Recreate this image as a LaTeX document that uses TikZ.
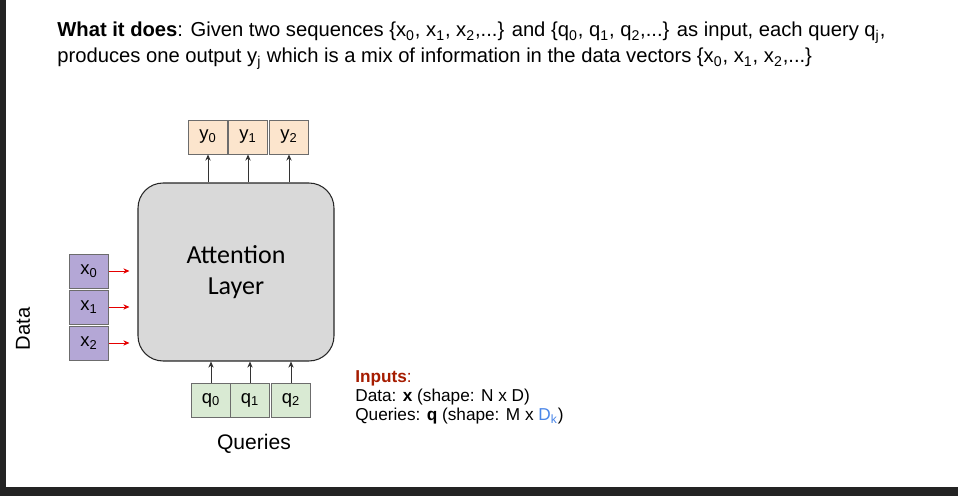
\documentclass[tikz,border=0pt]{standalone}
\usepackage{fontspec}
\setmainfont{Liberation Sans}
\newfontfamily\calfont{Carlito}
\usetikzlibrary{arrows.meta}

\definecolor{ycol}{HTML}{FCE5CD}
\definecolor{xcol}{HTML}{B4A7D6}
\definecolor{qcol}{HTML}{D9EAD3}
\definecolor{layercol}{HTML}{D9D9D9}
\definecolor{inred}{HTML}{A61C00}
\definecolor{dkblue}{HTML}{4A86E8}
\definecolor{framecol}{HTML}{232323}

\begin{document}
\begin{tikzpicture}[x=0.02cm, y=-0.02cm, >={Stealth[length=3.5pt,width=3pt]}]
    \tikzset{
        vec/.style={draw=gray!85!black, line width=0.5pt, minimum width=0.78cm, minimum height=0.68cm, inner sep=0pt, font=\fontsize{10.5}{12}\selectfont},
        flow/.style={->, line width=0.5pt, draw=black!80},
        redflow/.style={->, line width=0.5pt, draw=red!90!black, shorten >=0.16cm}
    }
    % frame
    \useasboundingbox (0,0) rectangle (958,496);
    \fill[framecol] (0,0) rectangle (958,496);
    \fill[white] (6,0) rectangle (958,487);
    % heading
    \node[anchor=base west, inner sep=0pt, font=\fontsize{11.5}{13}\selectfont] (head1) at (57,37)
        {\textbf{What it does}: Given two sequences \{x\textsubscript{0}, x\textsubscript{1}, x\textsubscript{2},...\} and \{q\textsubscript{0}, q\textsubscript{1}, q\textsubscript{2},...\} as input, each query q\textsubscript{j},};
    \node[anchor=base west, inner sep=0pt, font=\fontsize{11.5}{13}\selectfont] (head2) at (57,63)
        {produces one output y\textsubscript{j} which is a mix of information in the data vectors \{x\textsubscript{0}, x\textsubscript{1}, x\textsubscript{2},...\}};
    % attention layer
    \node[draw=black!85, line width=0.6pt, fill=layercol, rounded corners=0.5cm, minimum width=3.92cm, minimum height=3.56cm,
        align=center, font=\calfont\fontsize{14.8}{18}\selectfont] (layer) at (236,272) {Attention\\Layer};
    % outputs
    \node[vec, fill=ycol] (y0) at (208,137) {y\textsubscript{0}};
    \node[vec, fill=ycol] (y1) at (248,137) {y\textsubscript{1}};
    \node[vec, fill=ycol] (y2) at (289,137) {y\textsubscript{2}};
    \foreach \i in {0,1,2}
        \draw[flow] (y\i |- layer.north) -- (y\i.south);
    % data
    \node[vec, fill=xcol] (x0) at (89,271) {x\textsubscript{0}};
    \node[vec, fill=xcol] (x1) at (89,307) {x\textsubscript{1}};
    \node[vec, fill=xcol] (x2) at (89,343) {x\textsubscript{2}};
    \foreach \i in {0,1,2}
        \draw[redflow] (x\i.east) -- (x\i -| layer.west);
    \node[rotate=90, font=\fontsize{11.5}{13}\selectfont] (datalbl) at (23,329) {Data};
    % queries
    \node[vec, fill=qcol] (q0) at (211,400) {q\textsubscript{0}};
    \node[vec, fill=qcol] (q1) at (250,400) {q\textsubscript{1}};
    \node[vec, fill=qcol] (q2) at (291,400) {q\textsubscript{2}};
    \foreach \i in {0,1,2}
        \draw[flow] (q\i.north) -- (q\i |- layer.south);
    \node[font=\fontsize{12}{14}\selectfont] (qlbl) at (254,444) {Queries};
    % inputs
    \node[anchor=base west, inner sep=0pt, font=\fontsize{9.8}{11}\selectfont, text=inred] (inp1) at (355,383) {\textbf{Inputs}:};
    \node[anchor=base west, inner sep=0pt, font=\fontsize{9.8}{11}\selectfont] (inp2) at (355,402) {Data: \textbf{x} (shape: N x D)};
    \node[anchor=base west, inner sep=0pt, font=\fontsize{9.8}{11}\selectfont] (inp3) at (355,421) {Queries: \textbf{q} (shape: M x {\color{dkblue}D\textsubscript{k}})};
\end{tikzpicture}
\end{document}
